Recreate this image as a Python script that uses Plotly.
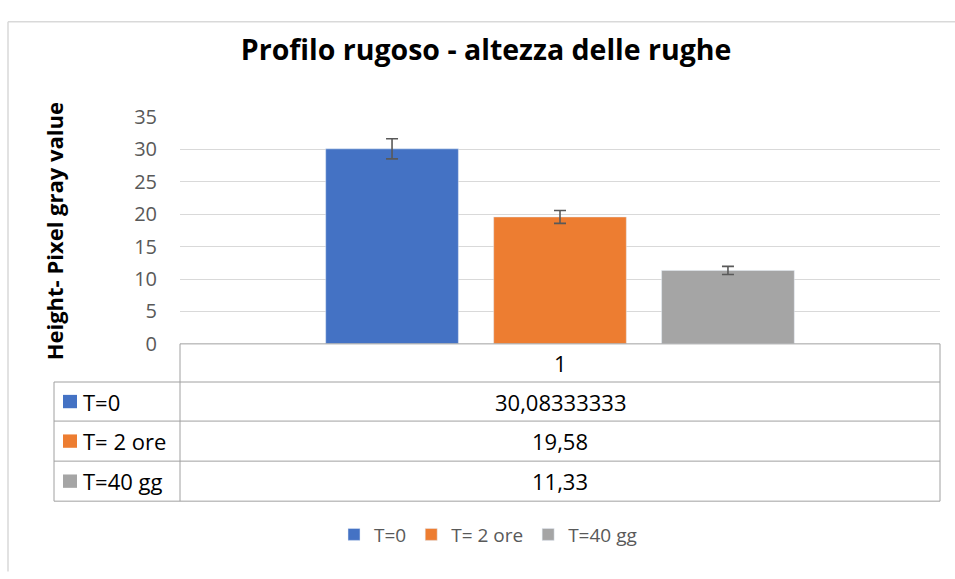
import plotly.graph_objects as go

# data
categories = ["1"]
series = ["T=0", "T= 2 ore", "T=40 gg"]
values = [30.08333333, 19.58, 11.33]
value_labels = ["30,08333333", "19,58", "11,33"]
errors = [1.55, 1.0, 0.63]
colors = ["#4472C4", "#ED7D31", "#A5A5A5"]

W, H = 955, 579
def px(x):
    return x / W
def py(y):
    return 1 - y / H

FONT = "Open Sans"

fig = go.Figure()
for name, v, e, c in zip(series, values, errors, colors):
    fig.add_trace(go.Bar(x=categories, y=[v], name=name, marker_color=c,
                         error_y=dict(type="data", array=[e], color="#595959",
                                      thickness=1.6, width=6)))

shapes = []
line = dict(color="#A0A0A0", width=1)
# data table grid under the plot
rows = [346, 386, 427, 469, 511]
left, mid, right = 54, 180, 940
for i, yy in enumerate(rows):
    x0 = mid if i == 0 else left
    shapes.append(dict(type="line", xref="paper", yref="paper", x0=px(x0), x1=px(right),
                       y0=py(yy), y1=py(yy), line=line))
shapes.append(dict(type="line", xref="paper", yref="paper", x0=px(mid), x1=px(mid),
                   y0=py(rows[0]), y1=py(rows[-1]), line=line))
shapes.append(dict(type="line", xref="paper", yref="paper", x0=px(right), x1=px(right),
                   y0=py(rows[0]), y1=py(rows[-1]), line=line))
shapes.append(dict(type="line", xref="paper", yref="paper", x0=px(left), x1=px(left),
                   y0=py(rows[1]), y1=py(rows[-1]), line=line))
# chart border (top/left visible)
shapes.append(dict(type="line", xref="paper", yref="paper", x0=px(8), x1=1.01,
                   y0=py(8), y1=py(8), line=dict(color="#D9D9D9", width=1.5)))
shapes.append(dict(type="line", xref="paper", yref="paper", x0=px(8), x1=px(8),
                   y0=py(8), y1=-0.01, line=dict(color="#D9D9D9", width=1.5)))

annotations = []
annotations.append(dict(text=categories[0], x=px((mid + right) / 2), y=py((rows[0] + rows[1]) / 2),
                        xref="paper", yref="paper", showarrow=False, xanchor="center", yanchor="middle",
                        font=dict(family=FONT, size=22, color="#000000")))
for i, (name, lab, c) in enumerate(zip(series, value_labels, colors)):
    yc = (rows[i + 1] + rows[i + 2]) / 2
    shapes.append(dict(type="rect", xref="paper", yref="paper", x0=px(63), x1=px(77),
                       y0=py(yc - 7), y1=py(yc + 7), fillcolor=c, line=dict(width=0)))
    annotations.append(dict(text=name, x=px(81), y=py(yc), xref="paper", yref="paper",
                            xanchor="left", yanchor="middle", showarrow=False,
                            font=dict(family=FONT, size=22, color="#000000")))
    annotations.append(dict(text=lab, x=px((mid + right) / 2), y=py(yc), xref="paper", yref="paper",
                            xanchor="center", yanchor="middle", showarrow=False,
                            font=dict(family=FONT, size=22, color="#000000")))
# y axis title
annotations.append(dict(text="<b>Height- Pixel gray value</b>", x=px(54), y=py(228),
                        xref="paper", yref="paper", textangle=-90, showarrow=False,
                        xanchor="center", yanchor="middle",
                        font=dict(family=FONT, size=22, color="#000000")))

fig.update_layout(
    width=W, height=H,
    margin=dict(l=0, r=0, t=0, b=0),
    paper_bgcolor="white", plot_bgcolor="white",
    title=dict(text="<b>Profilo rugoso - altezza delle rughe</b>", x=0.509, xanchor="center",
               y=py(50), yanchor="middle", font=dict(family=FONT, size=28.5, color="#000000")),
    barmode="group", bargap=0.337, bargroupgap=0.21,
    xaxis=dict(domain=[px(mid), px(right)], showticklabels=False, showgrid=False,
               zeroline=False, showline=False),
    yaxis=dict(domain=[py(346), py(108)], range=[0, 35], dtick=5, gridcolor="#D9D9D9",
               gridwidth=1, zeroline=False, showline=False, ticklabelstandoff=22,
               tickfont=dict(family=FONT, size=20, color="#595959")),
    legend=dict(orientation="h", x=0.511, xanchor="center", y=py(546), yanchor="middle",
                font=dict(family=FONT, size=19, color="#595959"), itemwidth=30),
    shapes=shapes, annotations=annotations,
)

fig.write_html("out.html", config={"displayModeBar": False},
               post_script="document.body.style.margin='0px';document.body.style.overflow='hidden';")
